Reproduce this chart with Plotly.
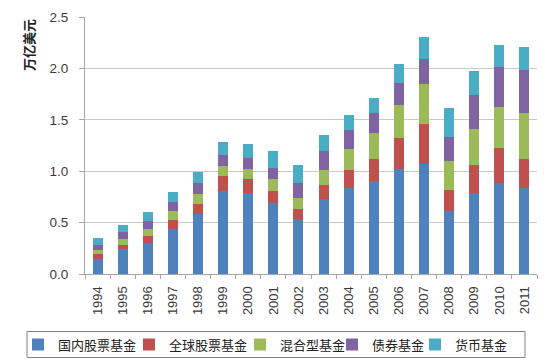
import plotly.graph_objects as go

years = [str(y) for y in range(1994, 2012)]
domestic = [0.15, 0.245, 0.305, 0.44, 0.58, 0.805, 0.79, 0.69, 0.535, 0.73, 0.84, 0.90, 1.02, 1.07, 0.61, 0.785, 0.885, 0.835]
global_eq = [0.04, 0.035, 0.065, 0.09, 0.10, 0.145, 0.13, 0.115, 0.10, 0.135, 0.17, 0.22, 0.305, 0.385, 0.21, 0.28, 0.34, 0.285]
hybrid = [0.045, 0.06, 0.065, 0.08, 0.095, 0.10, 0.105, 0.115, 0.10, 0.15, 0.21, 0.255, 0.315, 0.39, 0.28, 0.35, 0.40, 0.45]
bond = [0.05, 0.065, 0.08, 0.095, 0.11, 0.11, 0.10, 0.115, 0.155, 0.18, 0.185, 0.195, 0.215, 0.245, 0.23, 0.33, 0.39, 0.415]
money = [0.065, 0.075, 0.09, 0.09, 0.11, 0.12, 0.14, 0.16, 0.175, 0.155, 0.14, 0.145, 0.185, 0.22, 0.28, 0.23, 0.215, 0.22]

names = ["国内股票基金", "全球股票基金", "混合型基金", "债券基金", "货币基金"]
colors = ["#4F81BD", "#C0504D", "#9BBB59", "#8064A2", "#4BACC6"]
series = [domestic, global_eq, hybrid, bond, money]

# The page body has an 8px default margin, so the figure is offset by 8px.
OFF = 8
W, H = 550 - OFF, 364 - OFF
L, T, R, B = 85 - OFF, 17 - OFF, 13, 90
PW, PH = W - L - R, H - T - B


def px_x(sx):
    return ((sx - OFF) - L) / PW


def px_y(sy):
    return ((H - B) - (sy - OFF)) / PH


# screen x where each legend entry's text should start
legend_text_x = [58, 169, 280, 372, 455]
legend_ids = ["legend", "legend2", "legend3", "legend4", "legend5"]

fig = go.Figure()
for name, color, vals, lid in zip(names, colors, series, legend_ids):
    fig.add_trace(go.Bar(x=years, y=vals, name=name, legend=lid,
                         marker=dict(color=color, line=dict(width=0))))

layout_legends = {}
for lid, tx in zip(legend_ids, legend_text_x):
    layout_legends[lid] = dict(
        orientation="h", xref="paper", yref="paper",
        x=px_x(tx - 40), y=px_y(344.5), xanchor="left", yanchor="middle",
        bgcolor="rgba(0,0,0,0)", borderwidth=0, itemwidth=30,
        font=dict(family="Noto Sans CJK SC", size=13, color="#222222"),
    )

fig.update_layout(
    barmode="stack",
    bargap=0.6,
    width=W, height=H,
    margin=dict(l=L, r=R, t=T, b=B, autoexpand=False),
    paper_bgcolor="white", plot_bgcolor="white",
    font=dict(family="Liberation Sans, Arial, sans-serif", size=13, color="#404040"),
    showlegend=True,
    xaxis=dict(
        type="category", tickangle=-90,
        showline=True, linecolor="#a6a6a6", linewidth=1,
        ticks="outside", tickson="boundaries", ticklen=4, tickcolor="#a6a6a6",
        ticklabelstandoff=6,
        tickfont=dict(size=13, color="#3a3a3a"),
        showgrid=False, automargin=False,
    ),
    yaxis=dict(
        range=[0, 2.5], dtick=0.5, tickformat=".1f",
        showline=True, linecolor="#a6a6a6", linewidth=1,
        ticks="outside", ticklen=5, tickcolor="#a6a6a6",
        ticklabelstandoff=8,
        showgrid=True, gridcolor="#c8c8c8", gridwidth=1,
        zeroline=False, automargin=False,
        tickfont=dict(size=13.5, color="#3a3a3a"),
    ),
    shapes=[dict(
        type="rect", xref="paper", yref="paper",
        x0=px_x(27), x1=px_x(525), y0=px_y(357.5), y1=px_y(331.5),
        line=dict(color="#808080", width=1), fillcolor="rgba(0,0,0,0)", layer="below",
    )],
    annotations=[dict(
        text="<b>万亿美元</b>", textangle=-90,
        xref="paper", yref="paper",
        x=px_x(29), y=px_y(45),
        xanchor="center", yanchor="middle", showarrow=False,
        font=dict(family="Noto Sans CJK SC", size=13, color="#222222"),
    )],
    **layout_legends,
)

fig.write_html("out.html")
